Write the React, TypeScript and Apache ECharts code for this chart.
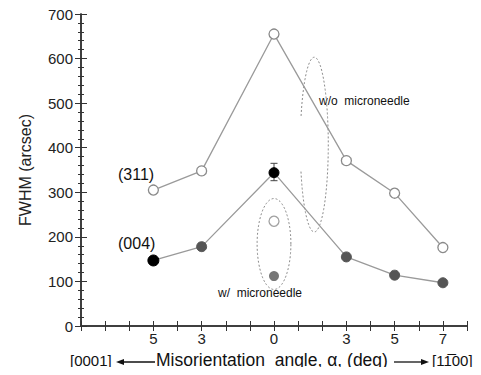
import React, { useEffect, useRef } from "react";
import * as echarts from "echarts";

// x positions on a 0..16 track; labels map to misorientation angle (deg)
const tickLabels: Record<number, string> = { 3: "5", 5: "3", 8: "0", 11: "3", 13: "5", 15: "7" };
const positions = [3, 5, 8, 11, 13, 15];
// (311) reflection, w/o microneedle
const fwhm311 = [305, 348, 655, 371, 298, 176];
// (004) reflection, w/o microneedle
const fwhm004 = [147, 178, 344, 155, 114, 97];
const colors004 = ["#000000", "#555555", "#000000", "#555555", "#555555", "#555555"];
const sizes004 = [11, 10, 10, 10, 10, 10];
// w/ microneedle at 0 deg
const withNeedle311 = [[8, 235]];
const withNeedle004 = [[8, 112]];
// error bar on (004) at 0 deg: [x, low, high]
const errorBars = [[8, 326, 365]];
// dashed ellipses: [cx, cy, rx, ry, gapStartDeg, gapEndDeg]
const ellipses = [
  [8, 184, 0.7, 102, 0, 0],
  [9.67, 407, 0.58, 196, 162, 198],
];

const FONT = "Liberation Sans, Arial, Helvetica, sans-serif";

export default function App() {
  const ref = useRef<HTMLDivElement>(null);
  useEffect(() => {
    if (!ref.current) return;
    const chart = echarts.init(ref.current, undefined, { renderer: "svg" });
    const axisLine = { lineStyle: { color: "#333", width: 1.5 } };
    const xCommon = {
      type: "value" as const,
      min: 0,
      max: 16,
      interval: 1,
      axisLine,
      splitLine: { show: false },
      axisTick: { inside: true, length: 5, lineStyle: { color: "#333", width: 1 } },
    };
    const yCommon = {
      type: "value" as const,
      min: 0,
      max: 700,
      interval: 100,
      axisLine,
      splitLine: { show: false },
      axisTick: { inside: true, length: 6, lineStyle: { color: "#333", width: 1 } },
      minorTick: { show: true, splitNumber: 5, length: 3, lineStyle: { color: "#333", width: 1 } },
    };
    const dashStyle = { stroke: "#8a8a8a", lineWidth: 1, lineDash: [2, 2], fill: null };
    chart.setOption({
      animation: false,
      grid: { left: 81, right: 14, top: 14, bottom: 49 },
      xAxis: [
        {
          ...xCommon,
          position: "bottom",
          axisLabel: {
            fontSize: 15,
            color: "#222",
            fontFamily: FONT,
            margin: 5,
            formatter: (v: number) => tickLabels[v] ?? "",
          },
        },
        { ...xCommon, position: "top", axisLabel: { show: false } },
      ],
      yAxis: [
        {
          ...yCommon,
          position: "left",
          name: "FWHM (arcsec)",
          nameLocation: "middle",
          nameGap: 48,
          nameTextStyle: { fontSize: 16, color: "#222", fontFamily: FONT },
          axisLabel: { fontSize: 15, color: "#222", fontFamily: FONT, margin: 8 },
        },
        { ...yCommon, position: "right", axisLabel: { show: false } },
      ],
      series: [
        {
          type: "custom",
          silent: true,
          data: ellipses,
          z: 1,
          renderItem: (params: any, api: any) => {
            const c = api.coord([api.value(0), api.value(1)]);
            const s = api.size([api.value(2), api.value(3)]);
            const g0 = api.value(4);
            const g1 = api.value(5);
            const pts: number[][] = [];
            const start = g1 > g0 ? g1 : 0;
            const end = g1 > g0 ? g0 + 360 : 360;
            for (let a = start; a <= end; a += 3) {
              const r = (a * Math.PI) / 180;
              pts.push([c[0] + s[0] * Math.cos(r), c[1] - s[1] * Math.sin(r)]);
            }
            return { type: "polyline", shape: { points: pts }, style: dashStyle };
          },
        },
        {
          type: "line",
          data: positions.map((x, i) => [x, fwhm311[i]]),
          symbol: "circle",
          symbolSize: 10,
          lineStyle: { color: "#9a9a9a", width: 1.3 },
          itemStyle: { color: "#ffffff", borderColor: "#8a8a8a", borderWidth: 1.3 },
          z: 3,
        },
        {
          type: "line",
          data: positions.map((x, i) => ({
            value: [x, fwhm004[i]],
            symbolSize: sizes004[i],
            itemStyle: { color: colors004[i], borderColor: colors004[i] },
          })),
          symbol: "circle",
          lineStyle: { color: "#9a9a9a", width: 1.3 },
          z: 3,
        },
        {
          type: "scatter",
          data: withNeedle311,
          symbol: "circle",
          symbolSize: 10,
          itemStyle: { color: "#ffffff", borderColor: "#8a8a8a", borderWidth: 1.3 },
          z: 3,
        },
        {
          type: "scatter",
          data: withNeedle004,
          symbol: "circle",
          symbolSize: 10,
          itemStyle: { color: "#555555" },
          z: 3,
        },
        {
          type: "custom",
          data: errorBars,
          z: 2,
          renderItem: (params: any, api: any) => {
            const lo = api.coord([api.value(0), api.value(1)]);
            const hi = api.coord([api.value(0), api.value(2)]);
            const w = 3.5;
            const st = { stroke: "#444", lineWidth: 1 };
            return {
              type: "group",
              children: [
                { type: "line", shape: { x1: lo[0], y1: lo[1], x2: hi[0], y2: hi[1] }, style: st },
                { type: "line", shape: { x1: lo[0] - w, y1: lo[1], x2: lo[0] + w, y2: lo[1] }, style: st },
                { type: "line", shape: { x1: hi[0] - w, y1: hi[1], x2: hi[0] + w, y2: hi[1] }, style: st },
              ],
            };
          },
        },
      ],
      graphic: [
        { type: "text", left: 118, top: 166, style: { text: "(311)", font: `16px ${FONT}`, fill: "#111" } },
        { type: "text", left: 118, top: 235, style: { text: "(004)", font: `16px ${FONT}`, fill: "#111" } },
        { type: "text", left: 319, top: 95, style: { text: "w/o  microneedle", font: `12px ${FONT}`, fill: "#111" } },
        { type: "text", left: 218, top: 287, style: { text: "w/  microneedle", font: `12px ${FONT}`, fill: "#111" } },
        { type: "text", left: 70, top: 353, style: { text: "[0001]", font: `15px ${FONT}`, fill: "#111" } },
        { type: "line", shape: { x1: 120, y1: 362, x2: 155, y2: 362 }, style: { stroke: "#111", lineWidth: 1.3 } },
        { type: "polygon", shape: { points: [[116, 362], [124, 359], [124, 365]] }, style: { fill: "#111" } },
        {
          type: "text",
          left: 156,
          top: 351,
          style: { text: "Misorientation  angle, α, (deg)", font: `17.5px ${FONT}`, fill: "#111" },
        },
        { type: "line", shape: { x1: 394, y1: 362, x2: 425, y2: 362 }, style: { stroke: "#111", lineWidth: 1.3 } },
        { type: "polygon", shape: { points: [[429, 362], [421, 359], [421, 365]] }, style: { fill: "#111" } },
        { type: "text", left: 432, top: 353, style: { text: "[11\u030500]", font: `15px ${FONT}`, fill: "#111" } },
      ],
    });
    return () => chart.dispose();
  }, []);
  return <div ref={ref} style={{ width: 481, height: 375, margin: -8 }} />;
}
